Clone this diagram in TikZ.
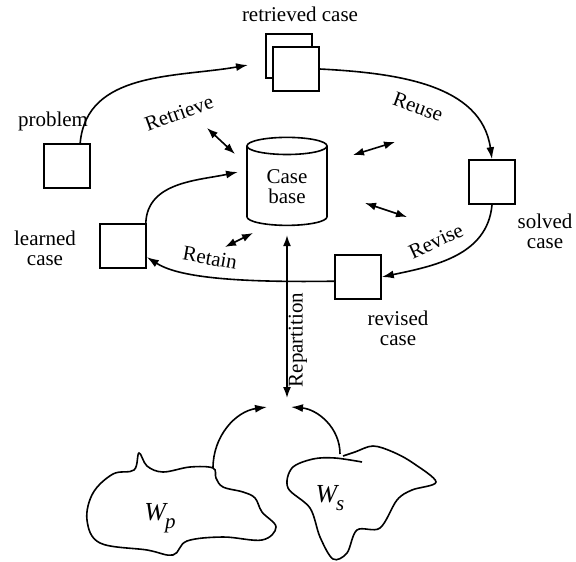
\documentclass[tikz,border=0pt]{standalone}
\usepackage{fontspec}
\setmainfont{Liberation Serif}
\usetikzlibrary{arrows,arrows.meta,shapes}
\tikzstyle{casebox}=[rectangle,draw,line width=1.6pt,minimum width=46pt,minimum height=44pt,inner sep=0pt,fill=white]
\tikzstyle{edge} = [draw,line width=1.6pt,-{Latex[length=12pt,width=8pt]}]
\tikzstyle{dedge} = [draw,line width=1.6pt,{Latex[length=11pt,width=8pt]}-{Latex[length=11pt,width=8pt]}]
\tikzstyle{blob} = [draw,line width=1.6pt]
\newcommand{\world}[2]{\fontsize{26}{28}\selectfont\itshape #1\kern-1pt\raisebox{-8pt}{\fontsize{21}{23}\selectfont #2}}

\begin{document}
\begin{tikzpicture}[x=1pt,y=1pt,font=\fontsize{21}{23}\selectfont]
        \useasboundingbox (0,0) rectangle (576,-562);
        % the four cases round the cycle
        \node[casebox] (problem) at (67,-166) {};
        \node[casebox] (retrA) at (289,-56) {};
        \node[casebox] (retrB) at (296,-69) {};
        \node[casebox] (solved) at (492,-182) {};
        \node[casebox] (revised) at (358,-277) {};
        \node[casebox] (learned) at (123,-246) {};
        \node[cylinder,shape border rotate=90,aspect=0.4,draw,line width=1.6pt,
              minimum width=80pt,minimum height=88pt,align=center,inner sep=1pt] (casebase) at (287,-187) {Case\\[-3pt]base};
        % labels
        \node (lproblem) at (53,-121) {problem};
        \node (lretr) at (300,-14) {retrieved case};
        \node[align=center] (lsolved) at (545,-231) {solved\\[-3pt]case};
        \node[align=center] (lrevised) at (398,-328) {revised\\[-3pt]case};
        \node[align=center] (llearned) at (45,-248) {learned\\[-3pt]case};
        \node[rotate=20] (tretrieve) at (179,-113) {Retrieve};
        \node[rotate=-20] (treuse) at (418,-107) {Reuse};
        \node[rotate=25] (trevise) at (436,-241) {Revise};
        \node[rotate=-10] (tretain) at (210,-258) {Retain};
        \node[rotate=90] (trepart) at (298,-340) {Repartition};
        % free ends
        \coordinate (retrin) at (248,-65);
        \coordinate (cbin) at (238,-172);
        \coordinate (merge) at (287,-398);
        \coordinate (mergeL) at (267,-407);
        \coordinate (mergeR) at (291,-407);
        \coordinate (wptop) at (213,-468);
        \coordinate (wstop) at (340,-454);
        \coordinate (rt1) at (207,-128); \coordinate (rt2) at (235,-154);
        \coordinate (ru1) at (353,-155); \coordinate (ru2) at (395,-142);
        \coordinate (rv1) at (365,-203); \coordinate (rv2) at (407,-217);
        \coordinate (ra1) at (225,-247); \coordinate (ra2) at (253,-233);
        % cycle
        \draw[edge] (problem.60) to[out=85,in=190] (retrin);
        \draw[edge] (retrB.east) to[out=-3,in=98] (solved.north);
        \draw[edge] (solved.south) to[out=-95,in=12] (revised.east);
        \draw[edge] (revised.190) .. controls (220,-283) and (175,-275) .. (learned.-25);
        \draw[edge] (learned.45) to[out=88,in=192] (cbin);
        \draw[dedge] (rt1) -- (rt2);
        \draw[dedge] (ru1) -- (ru2);
        \draw[dedge] (rv1) -- (rv2);
        \draw[dedge] (ra1) -- (ra2);
        \draw[dedge,shorten <=9pt] (casebase.south) -- (casebase.south |- merge);
        % the two worlds
        \draw[blob] plot[smooth cycle,tension=0.6] coordinates {(213,-468) (190,-467) (163,-472) (147,-466) (139,-453)
          (134,-470) (113,-474) (93,-493) (87,-520) (100,-543) (147,-550) (173,-555) (187,-541) (223,-537)
          (262,-540) (276,-527) (262,-512) (255,-498) (243,-492) (223,-487) (216,-478)};
        \draw[blob] plot[smooth,tension=0.55] coordinates {(362,-462) (335,-458) (313,-459) (292,-468) (288,-488)
          (310,-508) (320,-537) (333,-559) (347,-553) (357,-530) (380,-528) (397,-500) (412,-490) (436,-482)
          (413,-463) (393,-452) (373,-446) (355,-452) (343,-456)};
        \node (wp) at (160,-518) {\world{W}{p}};
        \node (ws) at (330,-498) {\world{W}{s}};
        \draw[edge] (wptop) to[out=90,in=188] (mergeL);
        \draw[edge] (wstop) to[out=90,in=-5] (mergeR);
      \end{tikzpicture}
\end{document}
